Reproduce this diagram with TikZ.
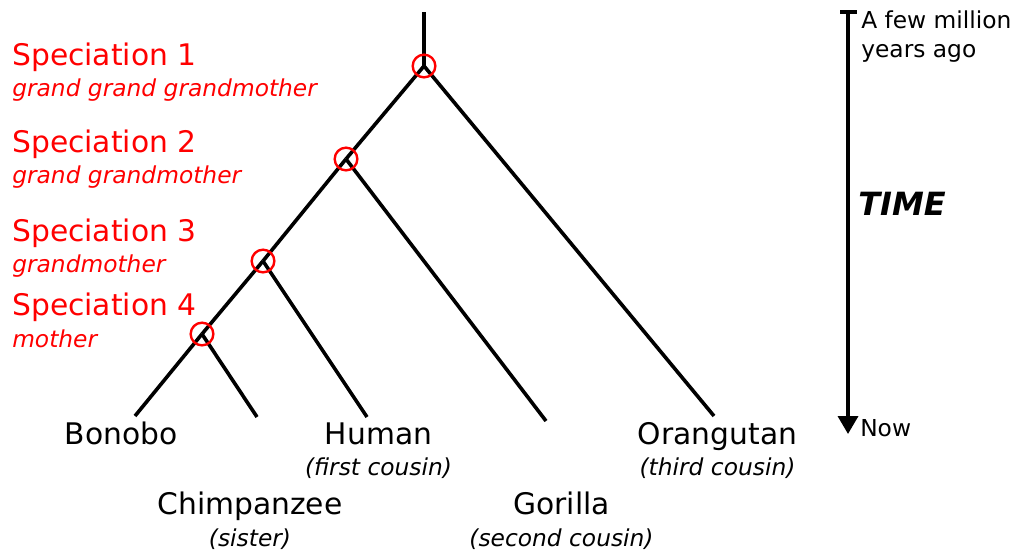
\documentclass[tikz,border=0pt]{standalone}
\usepackage{fontspec}
\setmainfont{DejaVu Sans}
\usetikzlibrary{arrows.meta}

\begin{document}
\begin{tikzpicture}[x=0.75pt, y=-0.75pt,
    branch/.style={line width=2.7pt},
    split/.style={draw=red, circle, line width=1.8pt, minimum size=17pt, inner sep=0pt},
    spec/.style={anchor=base west, inner sep=0pt, text=red, font=\fontsize{22.3}{26}\selectfont},
    who/.style={anchor=base west, inner sep=0pt, text=red, font=\fontsize{17.5}{21}\selectfont\itshape},
    species/.style={anchor=base, inner sep=0pt, font=\fontsize{22.3}{26}\selectfont},
    kin/.style={anchor=base, inner sep=0pt, font=\fontsize{17.5}{21}\selectfont\itshape},
    note/.style={anchor=base west, inner sep=0pt, font=\fontsize{17.5}{21}\selectfont}]
            \useasboundingbox (0,0) rectangle (1019,550);

            % Speciation points and leaves
            \coordinate (root) at (424,12);
            \coordinate (sp1) at (424,66);
            \coordinate (sp2) at (346,159);
            \coordinate (sp3) at (263,261);
            \coordinate (sp4) at (202,334);
            \coordinate (bonobo) at (135,416);
            \coordinate (chimp) at (257,417);
            \coordinate (human) at (367,417);
            \coordinate (gorilla) at (546,421);
            \coordinate (orang) at (714,416);

            % Connections
            \draw[branch] (root) -- (sp1);
            \draw[branch] (sp1) -- (sp2);
            \draw[branch] (sp2) -- (sp3);
            \draw[branch] (sp3) -- (sp4);
            \draw[branch] (sp4) -- (bonobo);
            \draw[branch] (sp4) -- (chimp);
            \draw[branch] (sp3) -- (human);
            \draw[branch] (sp2) -- (gorilla);
            \draw[branch] (sp1) -- (orang);

            % Nodes
            \node[split] (ring1) at (sp1) {};
            \node[split] (ring2) at (sp2) {};
            \node[split] (ring3) at (sp3) {};
            \node[split] (ring4) at (sp4) {};

            \node[spec] (spec1) at (12,65) {Speciation 1};
            \node[who] (who1) at (12,96) {grand grand grandmother};
            \node[spec] (spec2) at (12,152) {Speciation 2};
            \node[who] (who2) at (12,183) {grand grandmother};
            \node[spec] (spec3) at (12,241) {Speciation 3};
            \node[who] (who3) at (12,272) {grandmother};
            \node[spec] (spec4) at (12,315) {Speciation 4};
            \node[who] (who4) at (12,347) {mother};

            \node[species] (bonoboname) at (121,444) {Bonobo};
            \node[species] (humanname) at (378.5,444) {Human};
            \node[kin] (humankin) at (378.5,475) {(first cousin)};
            \node[species] (orangname) at (717.5,444) {Orangutan};
            \node[kin] (orangkin) at (717.5,475) {(third cousin)};
            \node[species] (chimpname) at (250,514) {Chimpanzee};
            \node[kin] (chimpkin) at (250,546) {(sister)};
            \node[species] (gorillaname) at (561.5,514) {Gorilla};
            \node[kin] (gorillakin) at (561.5,546) {(second cousin)};

            % Time axis
            \coordinate (past) at (848,12);
            \coordinate (now) at (848,434);
            \coordinate (tickl) at (840,12);
            \coordinate (tickr) at (857,12);
            \draw[line width=2.7pt] (tickl) -- (tickr);
            \draw[line width=2.7pt, -{Triangle[length=13.5pt,width=15pt]}] (past) -- (now);
            \node[note] (ago1) at (861,28) {A few million};
            \node[note] (ago2) at (861,57) {years ago};
            \node[note] (nowlabel) at (860,436) {Now};
            \node[anchor=base west, inner sep=0pt, font=\fontsize{24}{28}\selectfont\bfseries\itshape] (timelabel) at (858,215) {TIME};
        \end{tikzpicture}
\end{document}
